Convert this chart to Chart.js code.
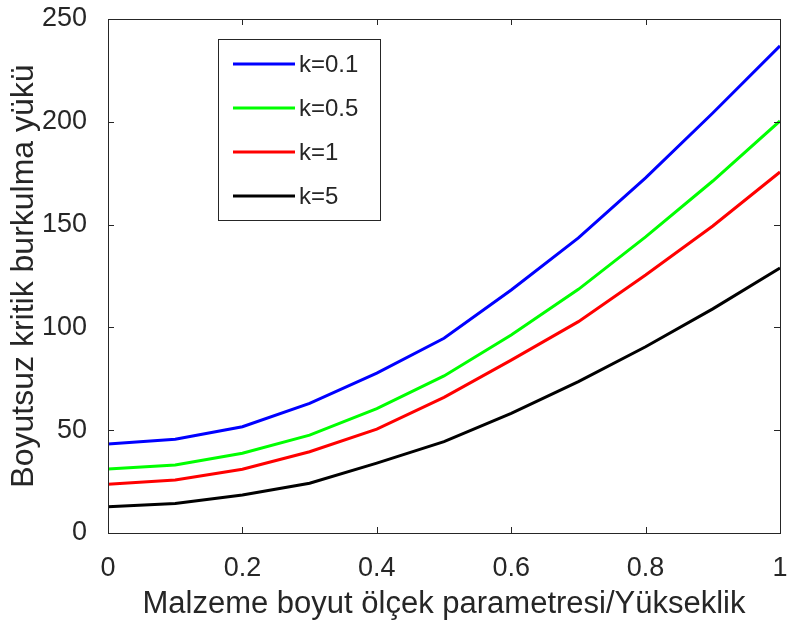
<!DOCTYPE html>
<html>
<head>
<meta charset="utf-8">
<script src="https://cdn.jsdelivr.net/npm/chart.js@4"></script>
<style>
  html, body { margin: 0; padding: 0; background: #fff; }
  #wrap { width: 790px; height: 624px; }
</style>
</head>
<body>
<div id="wrap"><canvas id="chart"></canvas></div>
<script>
// length-scale parameter / height ratio
const ratio = [0, 0.1, 0.2, 0.3, 0.4, 0.5, 0.6, 0.7, 0.8, 0.9, 1];
const kLabels = ["k=0.1", "k=0.5", "k=1", "k=5"];
const lineColors = ["#0000ff", "#00ff00", "#ff0000", "#000000"];

const k01 = [43.3, 45.6, 51.7, 63.0, 77.8, 94.7, 118.2, 143.5, 172.7, 204.3, 236.9];
const k05 = [31.1, 33.1, 38.8, 47.6, 60.5, 76.4, 96.3, 118.5, 144.0, 171.2, 200.4];
const k1  = [23.7, 25.8, 31.0, 39.5, 50.5, 66.0, 84.1, 102.8, 125.5, 149.3, 175.6];
const k5  = [12.8, 14.4, 18.5, 24.2, 34.0, 44.4, 58.2, 73.6, 90.6, 109.0, 128.9];

const xTicks = [0, 0.2, 0.4, 0.6, 0.8, 1];
const yTicks = [0, 50, 100, 150, 200, 250];

const axisColor = "#262626";
const fontFamily = "'Liberation Sans', Arial, sans-serif";

const series = [k01, k05, k1, k5];

const datasets = series.map((vals, i) => ({
  label: kLabels[i],
  data: vals.map((v, j) => ({ x: ratio[j], y: v })),
  borderColor: lineColors[i],
  backgroundColor: lineColors[i],
  borderWidth: 3,
  pointRadius: 0,
  tension: 0,
  fill: false
}));

// box around the plot plus short inward tick marks
const boxTicks = {
  id: "boxTicks",
  afterDatasetsDraw(chart) {
    const { ctx, chartArea: a, scales: { x, y } } = chart;
    ctx.save();
    ctx.strokeStyle = axisColor;
    ctx.lineWidth = 1;
    ctx.strokeRect(a.left + 0.5, a.top + 0.5, a.right - a.left, a.bottom - a.top);
    const len = 6;
    ctx.beginPath();
    xTicks.forEach(v => {
      const px = Math.round(x.getPixelForValue(v)) + 0.5;
      ctx.moveTo(px, a.bottom); ctx.lineTo(px, a.bottom - len);
      ctx.moveTo(px, a.top); ctx.lineTo(px, a.top + len);
    });
    yTicks.forEach(v => {
      const py = Math.round(y.getPixelForValue(v)) + 0.5;
      ctx.moveTo(a.left, py); ctx.lineTo(a.left + len, py);
      ctx.moveTo(a.right, py); ctx.lineTo(a.right - len, py);
    });
    ctx.stroke();
    ctx.restore();
  }
};

// legend box inside the plot, upper left
const boxLegend = {
  id: "boxLegend",
  afterDraw(chart) {
    const { ctx } = chart;
    const left = 218, top = 39, w = 162, h = 181;
    ctx.save();
    ctx.fillStyle = "#fff";
    ctx.fillRect(left, top, w, h);
    ctx.strokeStyle = "#262626";
    ctx.lineWidth = 1;
    ctx.strokeRect(left + 0.5, top + 0.5, w, h);
    ctx.font = "24px " + fontFamily;
    ctx.textBaseline = "middle";
    chart.data.datasets.forEach((ds, i) => {
      const rowY = top + 25 + i * 44;
      ctx.strokeStyle = ds.borderColor;
      ctx.lineWidth = 3;
      ctx.beginPath();
      ctx.moveTo(left + 15, rowY);
      ctx.lineTo(left + 77, rowY);
      ctx.stroke();
      ctx.fillStyle = axisColor;
      ctx.fillText(ds.label, left + 81, rowY + 1);
    });
    ctx.restore();
  }
};

new Chart(document.getElementById("chart"), {
  type: "line",
  data: { datasets },
  plugins: [boxTicks, boxLegend],
  options: {
    responsive: true,
    maintainAspectRatio: false,
    animation: false,
    layout: { padding: { top: 19, right: 10, left: 0, bottom: 0 } },
    plugins: {
      legend: { display: false },
      tooltip: { enabled: false }
    },
    scales: {
      x: {
        type: "linear",
        min: 0,
        max: 1,
        afterBuildTicks(scale) { scale.ticks = xTicks.map(v => ({ value: v })); },
        afterFit(scale) {
          scale.height = 91;
          scale.paddingLeft = 0;
          scale.paddingRight = 0;
        },
        grid: { display: false },
        border: { display: false },
        ticks: {
          color: axisColor,
          padding: 11,
          maxRotation: 0,
          font: { family: fontFamily, size: 27 },
          callback: v => String(v)
        },
        title: {
          display: true,
          text: "Malzeme boyut ölçek parametresi/Yükseklik",
          color: axisColor,
          font: { family: fontFamily, size: 31 },
          padding: { top: 0, bottom: 1 }
        }
      },
      y: {
        min: 0,
        max: 250,
        afterBuildTicks(scale) { scale.ticks = yTicks.map(v => ({ value: v })); },
        afterFit(scale) {
          scale.width = 108;
          scale.paddingTop = 0;
          scale.paddingBottom = 0;
        },
        grid: { display: false },
        border: { display: false },
        ticks: {
          color: axisColor,
          padding: 13,
          font: { family: fontFamily, size: 27 }
        },
        title: {
          display: true,
          text: "Boyutsuz kritik burkulma yükü",
          color: axisColor,
          font: { family: fontFamily, size: 32 },
          padding: { top: 5, bottom: 0 }
        }
      }
    }
  }
});
</script>
</body>
</html>
